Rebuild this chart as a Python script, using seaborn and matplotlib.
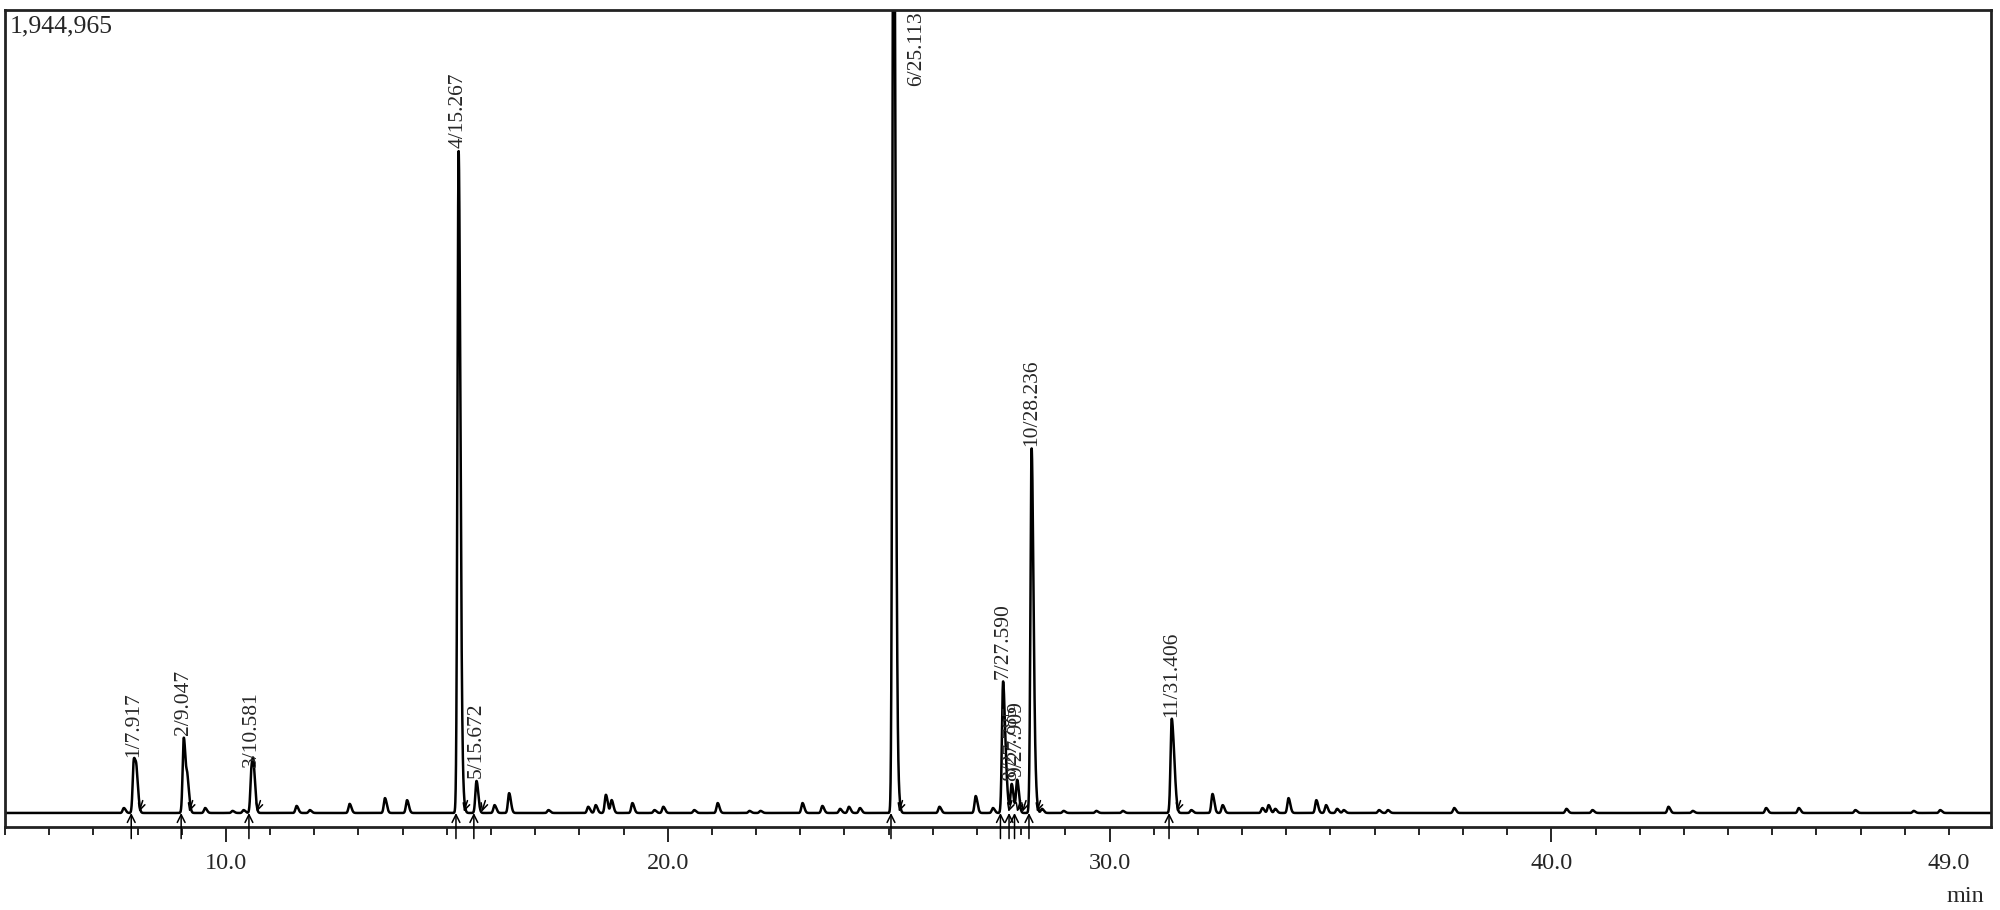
import numpy as np
import pandas as pd
import matplotlib
matplotlib.use('Agg')
import matplotlib.pyplot as plt
import seaborn as sns

# labelled peaks (no./retention time) and their heights
peak_no = [1, 2, 3, 4, 5, 6, 7, 8, 9, 10, 11]
peak_rt = [7.917, 9.047, 10.581, 15.267, 15.672, 25.113, 27.590, 27.785, 27.909, 28.236, 31.406]
peak_height = [128000, 182000, 104000, 1603000, 77500, 2600000, 317000, 70000, 80000, 882000, 225000]

# small unlabelled peaks and shoulders along the baseline
minor_rt = [7.69, 7.98, 9.13, 9.53, 10.15, 10.40, 10.63, 11.6, 11.9, 12.8, 13.6, 14.1,
            15.35, 16.08, 16.41, 17.3, 18.2, 18.37, 18.6, 18.73, 19.2, 19.7, 19.9,
            20.6, 21.13, 21.85, 22.1, 23.05, 23.5, 23.9, 24.1, 24.35, 25.2, 26.15,
            26.97, 27.36, 27.66, 28.31, 28.47, 28.96, 29.7, 30.3, 31.47, 31.85, 32.33,
            32.56, 33.46, 33.6, 33.75, 34.05, 34.68, 34.9, 35.15, 35.3, 36.1, 36.3,
            37.8, 40.34, 40.93, 42.65, 43.2, 44.86, 45.6, 46.88, 48.2, 48.8]
minor_height = [12000, 73000, 73000, 12000, 5000, 7000, 73000, 17000, 7000, 22000, 36000, 31000,
                48000, 19000, 48000, 7000, 15000, 19000, 44000, 31000, 24000, 7000, 15000,
                7000, 24000, 5000, 5000, 24000, 17000, 10000, 15000, 12000, 63000, 15000,
                41000, 12000, 60000, 60000, 10000, 5000, 5000, 5000, 63000, 7000, 46000,
                19000, 12000, 19000, 10000, 36000, 31000, 19000, 10000, 7000, 7000, 7000,
                12000, 10000, 7000, 15000, 5000, 12000, 12000, 7000, 5000, 7000]

top_value = 1944965
tick_pos = [10, 20, 30, 40, 49]
tick_labels = ['10.0', '20.0', '30.0', '40.0', '49.0']

# build the trace from the peak table
t = np.linspace(5.0, 50.0, 24001)
signal = np.zeros_like(t)
for r, h in zip(peak_rt + minor_rt, peak_height + minor_height):
    sigma = np.where(t < r, 0.026, 0.04)
    signal += h * np.exp(-0.5 * ((t - r) / sigma) ** 2)
trace = pd.DataFrame({'time': t, 'signal': signal})

sns.set_style('white')
plt.rcParams['font.family'] = ['Liberation Serif', 'DejaVu Serif']

fig = plt.figure(figsize=(20, 9.1), dpi=100)
ax = fig.add_axes([0.0025, 0.0912, 0.993, 0.8978])
sns.lineplot(data=trace, x='time', y='signal', color='black', linewidth=1.8,
             estimator=None, sort=False, ax=ax)

ax.set_xlim(5.0, 49.95)
ax.set_ylim(-34000, top_value)

# peak labels
for n, r, h in zip(peak_no, peak_rt, peak_height):
    label = f'{n}/{r:.3f}'
    if h > top_value:
        ax.annotate(label, xy=(r, top_value), xytext=(16.5, -1), textcoords='offset points',
                    rotation=90, ha='center', va='top', fontsize=15.5)
    else:
        ax.annotate(label, xy=(r, h), xytext=(0, 2), textcoords='offset points',
                    rotation=90, ha='center', va='bottom', fontsize=15.5)

# integration start / end marks
for r in peak_rt:
    a = ax.annotate('', xy=(r - 0.06, 0), xytext=(r - 0.06, -62000),
                    arrowprops=dict(arrowstyle='->', color='black', lw=1.1,
                                    shrinkA=0, shrinkB=0, mutation_scale=14),
                    annotation_clip=False)
    a.arrow_patch.set_clip_on(False)
    ax.annotate('', xy=(r + 0.12, 3000), xytext=(r + 0.2, 30000),
                arrowprops=dict(arrowstyle='->', color='black', lw=1.1,
                                shrinkA=0, shrinkB=0, mutation_scale=12))

ax.set_xticks(tick_pos)
ax.set_xticklabels(tick_labels)
ax.set_xticks(np.arange(5, 50, 1), minor=True)
ax.tick_params(axis='x', which='major', direction='out', length=11, width=1.4,
               pad=8, labelsize=17.5, bottom=True)
ax.tick_params(axis='x', which='minor', direction='out', length=5.5, width=1.4, bottom=True)
ax.xaxis.get_major_ticks()[-1].tick1line.set_markersize(5.5)
ax.set_yticks([])
ax.set_xlabel('')
ax.set_ylabel('')

for s in ax.spines.values():
    s.set_color('#222222')
    s.set_linewidth(2)

ax.text(0.0025, 0.993, f'{top_value:,}', transform=ax.transAxes, ha='left', va='top', fontsize=18.5)
fig.text(0.9825, 0.0143, 'min', ha='center', va='center', fontsize=17.5)

fig.savefig('out.png', dpi=100)
